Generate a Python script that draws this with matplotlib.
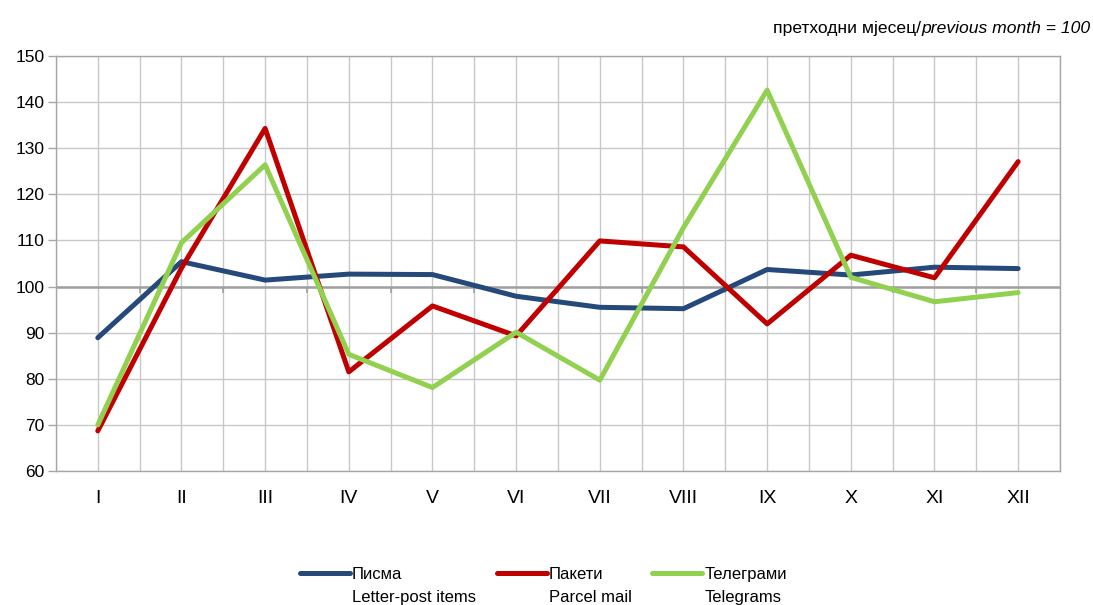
import matplotlib
matplotlib.use("Agg")
import matplotlib.pyplot as plt
import numpy as np

plt.rcParams['font.family'] = ['Liberation Sans', 'DejaVu Sans']

months = ["I", "II", "III", "IV", "V", "VI", "VII", "VIII", "IX", "X", "XI", "XII"]
letters = [88.9, 105.4, 101.4, 102.7, 102.6, 97.9, 95.5, 95.2, 103.7, 102.5, 104.2, 103.9]
parcels = [68.7, 104.0, 134.3, 81.5, 95.8, 89.3, 109.9, 108.6, 91.9, 106.8, 101.9, 127.1]
telegrams = [70.0, 109.5, 126.4, 85.3, 78.1, 90.1, 79.7, 112.8, 142.6, 102.0, 96.7, 98.7]

labels = ["Писма\nLetter-post items", "Пакети\nParcel mail", "Телеграми\nTelegrams"]
colors = ["#24497A", "#C00000", "#92D050"]

fig = plt.figure(figsize=(10.93, 6.05), dpi=100)
ax = fig.add_axes([0.0512, 0.2215, 0.9186, 0.6859])

x = np.arange(len(months))
for vals, lab, col in zip([letters, parcels, telegrams], labels, colors):
    ax.plot(x, vals, color=col, lw=3.6, label=lab, solid_capstyle='round', solid_joinstyle='round', zorder=3)

ax.set_xlim(-0.5, len(months) - 0.5)
ax.set_ylim(60, 150)
ax.set_yticks(np.arange(60, 151, 10))
ax.set_xticks(x)
ax.set_xticklabels(months)
ax.set_xticks(np.arange(-0.5, len(months), 1.0), minor=True)
ax.grid(True, which='both', axis='x', color='#C8C8C8', lw=1)
ax.grid(True, which='major', axis='y', color='#C8C8C8', lw=1)
ax.tick_params(axis='x', which='both', length=0, labelsize=14, pad=14, colors='#000000')
ax.tick_params(axis='y', length=6, width=1, color='#A6A6A6', labelsize=12.5, pad=2)
for s in ax.spines.values():
    s.set_color('#A6A6A6')
    s.set_linewidth(1)

# category axis crosses at 100
ax.axhline(100, color='#A0A0A0', lw=1.8, zorder=2)
ax.vlines(np.arange(0.5, len(months) - 0.5), 98.7, 100, color='#A0A0A0', lw=1.2, zorder=2)

t1 = fig.text(0.9975, 0.953, "previous month = 100", ha='right', va='center', fontsize=12.6, style='italic')
fig.canvas.draw()
bb = t1.get_window_extent()
fig.text(bb.x0 / fig.bbox.width, 0.953, "претходни мјесец/", ha='right', va='center', fontsize=12.6)

fs = 12
leg = fig.legend(loc='upper center', bbox_to_anchor=(0.497, 0.062), ncol=3, frameon=False,
                 fontsize=fs, handlelength=3.0, handletextpad=0.12, columnspacing=1.25,
                 borderpad=0, borderaxespad=0)
for t in leg.get_texts():
    t.set_linespacing(1.6)
# handle sits level with the first (Serbian) line
for ln in leg.get_lines():
    ln.set_ydata(np.asarray(ln.get_ydata()) + 0.8 * fs)

fig.savefig("out.png", dpi=100)
